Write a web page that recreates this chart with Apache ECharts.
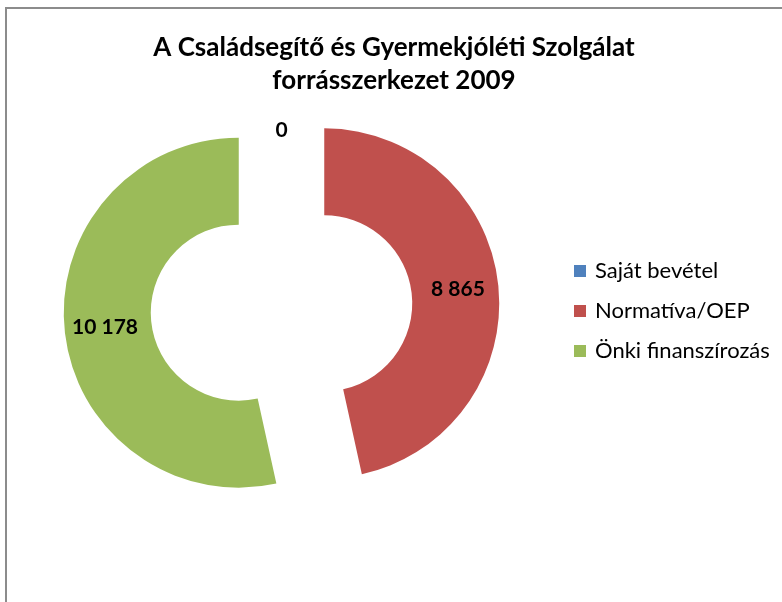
<!DOCTYPE html>
<html>
<head>
<meta charset="utf-8">
<script src="https://cdn.jsdelivr.net/npm/echarts@6/dist/echarts.min.js"></script>
<style>
	html, body { margin: 0; padding: 0; background: #fff; }
	#main { width: 782px; height: 602px; }
</style>
</head>
<body>
<div id="main"></div>
<script>
var categories = [ 'Saját bevétel', 'Normatíva/OEP', 'Önki finanszírozás' ];
var values = [ 0, 8865, 10178 ];
var colors = [ '#4F81BD', '#C0504D', '#9BBB59' ];

function fmt(v) {
	// szóköz ezres elválasztó
	return String(v).replace(/\B(?=(\d{3})+(?!\d))/g, ' ');
}

var chart = echarts.init(document.getElementById('main'));

var pieData = categories.map(function (name, i) {
	return {
		name : name,
		value : values[i],
		selected : true,
		itemStyle : { color : colors[i] }
	};
});

var option = {
	backgroundColor : '#fff',
	animation : false,
	title : {
		text : 'A Családsegítő és Gyermekjóléti Szolgálat\nforrásszerkezet 2009',
		left : 389,
		textAlign : 'center',
		top : 26,
		textStyle : {
			fontFamily : 'Lato',
			fontWeight : 'bold',
			fontSize : 26,
			lineHeight : 33,
			color : '#000'
		}
	},
	legend : {
		orient : 'vertical',
		left : 569,
		top : 255,
		itemWidth : 12,
		itemHeight : 12,
		itemGap : 18,
		icon : 'rect',
		selectedMode : false,
		data : categories,
		textStyle : {
			fontFamily : 'Lato',
			fontSize : 22,
			lineHeight : 22,
			color : '#000',
			padding : [ 0, 0, 0, 4 ]
		}
	},
	graphic : [ {
		type : 'rect',
		shape : { x : 6, y : 8, width : 900, height : 700 },
		style : { fill : 'none', stroke : '#8c8c8c', lineWidth : 2 },
		z : -1
	} ],
	series : [ {
		name : 'forrásszerkezet',
		type : 'pie',
		center : [ 281.5, 308 ],
		radius : [ 88, 175 ],
		startAngle : 90,
		clockwise : true,
		selectedMode : 'multiple',
		selectedOffset : 43,
		avoidLabelOverlap : false,
		label : {
			show : true,
			position : 'inside',
			fontFamily : 'Lato',
			fontWeight : 'bold',
			fontSize : 21,
			color : '#000',
			formatter : function (p) {
				return fmt(p.value);
			}
		},
		labelLine : { show : false },
		emphasis : { disabled : true },
		data : pieData
	} ]
};

chart.setOption(option);
</script>
</body>
</html>
